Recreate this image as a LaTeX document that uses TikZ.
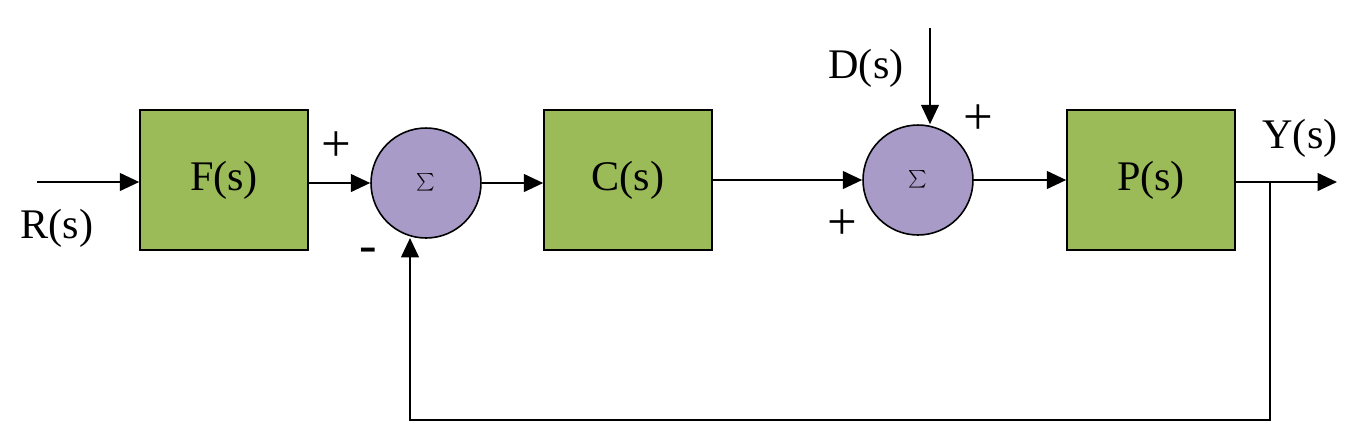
\documentclass[tikz,border=0pt]{standalone}
\usepackage{fontspec}
\setmainfont{Liberation Serif}
\usetikzlibrary{arrows.meta}
\definecolor{gr}{HTML}{9BBB59}
\definecolor{pu}{HTML}{A99BC8}
\begin{document}
\begin{tikzpicture}[x=0.02cm,y=-0.02cm,
 blk/.style={draw,line width=0.9pt,fill=gr,minimum width=3.36cm,minimum height=2.8cm,inner sep=0,font=\fontsize{24}{28}\selectfont},
 sum/.style={draw,line width=0.9pt,fill=pu,circle,minimum size=2.2cm,inner sep=0,font=\fontsize{40}{44}\selectfont},
 lab/.style={font=\fontsize{24}{28}\selectfont},
 sg/.style={font=\fontsize{30}{34}\selectfont},
 ar/.style={line width=1.4pt,-{Triangle[length=11pt,width=10pt]}}]
\useasboundingbox (0,0) rectangle (1359,444);
\node[blk] (F) at (224,180) {F(s)};
\node[blk] (C) at (628,180) {C(s)};
\node[blk] (P) at (1151,180) {P(s)};
\node[sum] (S1) at (426,183) {$\sum$};
\node[sum] (S2) at (918,180) {$\sum$};
\coordinate (R) at (37,182);
\coordinate (D) at (930,28);
\coordinate (Y) at (1337,182);
\coordinate (T) at (1270,182);
\draw[ar] (R) -- (R-|F.west);
\draw[ar] (F.east|-S1) -- (S1.west);
\draw[ar] (S1.east) -- (C.west|-S1);
\draw[ar] (C.east|-S2) -- (S2.west);
\draw[ar] (D) -- (D|-S2.north);
\draw[ar] (S2.east) -- (P.west|-S2);
\draw[ar] (P.east|-Y) -- (Y);
\draw[ar] (T) -- (1270,420) -- (410,420) -- (410,238);
\node[lab] (r) at (57,228) {R(s)};
\node[lab] (d) at (866,68) {D(s)};
\node[lab] (y) at (1300,138) {Y(s)};
\node[sg] (p1) at (336,147) {+};
\node[sg] (p2) at (842,225) {+};
\node[sg] (p3) at (978,120) {+};
\node[sg] (m1) at (368,255) {-};
\end{tikzpicture}
\end{document}
